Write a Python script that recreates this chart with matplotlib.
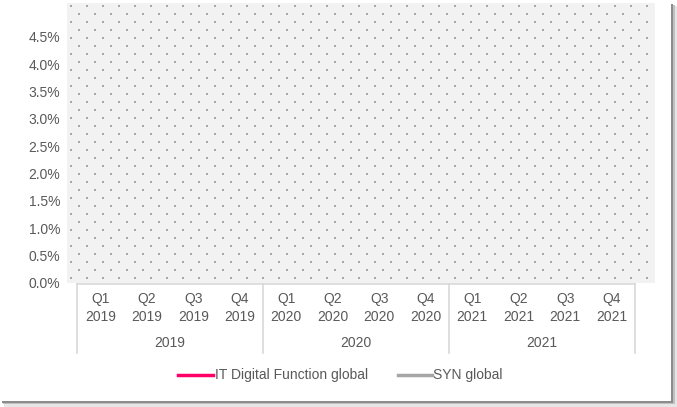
import matplotlib
matplotlib.use("Agg")
import matplotlib.pyplot as plt
import numpy as np
from matplotlib.patches import Rectangle
from matplotlib.ticker import FuncFormatter

plt.rcParams['font.family'] = ['Liberation Sans', 'DejaVu Sans']

# data
quarters = ["Q1", "Q2", "Q3", "Q4"]
years = ["2019", "2020", "2021"]
series_names = ["IT Digital Function global", "SYN global"]
series_colors = ["#ff0066", "#a6a6a6"]
# no values are shown in the chart (empty series)
it_digital = [np.nan] * 12
syn_global = [np.nan] * 12
y_ticks = [0.0, 0.005, 0.010, 0.015, 0.020, 0.025, 0.030, 0.035, 0.040, 0.045]

W, H = 677, 407
FS = 10
TXT = "#595959"
fig = plt.figure(figsize=(W / 100, H / 100), dpi=100)
fig.patch.set_facecolor("white")


def px(x0, y0, x1, y1):
    # pixel box -> figure fraction [l, b, w, h]
    return [x0 / W, 1 - y1 / H, (x1 - x0) / W, (y1 - y0) / H]


# card with shadow
sh = [(4, 6, 677, 407, "#e6e6e6"), (3, 5, 675, 404, "#bfbfbf"), (2, 4, 673, 403, "#8c8c8c")]
for x0, y0, x1, y1, c in sh:
    fig.patches.append(Rectangle((x0 / W, 1 - y1 / H), (x1 - x0) / W, (y1 - y0) / H,
                                 transform=fig.transFigure, facecolor=c, edgecolor="none", zorder=-10))
fig.patches.append(Rectangle((0, 1 - 401 / H), 671 / W, 401 / H,
                             transform=fig.transFigure, facecolor="white", edgecolor="none", zorder=-9))

# plot area
px_l, px_r, px_t, px_b = 67, 655, 3, 283
cat_l, cat_r = 77, 635
cw = (cat_r - cat_l) / 12.0
ax = fig.add_axes(px(px_l, px_t, px_r, px_b))
ax.set_facecolor("#f2f2f2")
for s in ax.spines.values():
    s.set_visible(False)
ax.set_xlim(-0.5 - (cat_l - px_l) / cw, 11.5 + (px_r - cat_r) / cw)
ax.set_ylim(0, 0.0512)
ax.set_yticks(y_ticks)
ax.yaxis.set_major_formatter(FuncFormatter(lambda v, p: f"{v * 100:.1f}%"))
ax.tick_params(axis="y", length=0, labelsize=FS, labelcolor=TXT, pad=5)
ax.set_xticks([])

# dotted pattern
dots_x, dots_y = [], []
row = 0
y = px_t + 3
while y < px_b - 3:
    off = 0 if row % 2 == 0 else 8
    x = px_l + 4 + off
    while x < px_r - 2:
        dots_x.append((x - px_l) / (px_r - px_l))
        dots_y.append(1 - (y - px_t) / (px_b - px_t))
        x += 16
    y += 8
    row += 1
ax.scatter(dots_x, dots_y, s=1.5, marker="s", color="#a6a6a6", linewidths=0,
           transform=ax.transAxes, zorder=1)

xs = np.arange(12)
ax.plot(xs, it_digital, color=series_colors[0], lw=2.5)
ax.plot(xs, syn_global, color=series_colors[1], lw=2.5)

# category axis (multi-level)
cax = fig.add_axes(px(cat_l, 284, cat_r, 353))
cax.set_xlim(0, 12)
cax.set_ylim(0, 1)
cax.axis("off")
lc = "#d9d9d9"
cax.plot([0, 12], [1, 1], color=lc, lw=1.2, clip_on=False)
for b in [0, 4, 8, 12]:
    cax.plot([b, b], [0, 1], color=lc, lw=1.2, clip_on=False)
for yi, yr in enumerate(years):
    for qi, q in enumerate(quarters):
        cax.text(yi * 4 + qi + 0.5, 1 - 24 / 69, f"{q}\n{yr}", ha="center", va="center",
                 fontsize=FS, color=TXT, linespacing=1.45)
    cax.text(yi * 4 + 2, 1 - 59 / 69, yr, ha="center", va="center", fontsize=FS, color=TXT)

# legend
lg_y = 1 - 375 / H
fig.add_artist(plt.Line2D([178 / W, 213 / W], [lg_y, lg_y], color=series_colors[0], lw=2.5))
fig.text(215 / W, lg_y, series_names[0], ha="left", va="center", fontsize=FS, color=TXT)
fig.add_artist(plt.Line2D([398 / W, 432 / W], [lg_y, lg_y], color=series_colors[1], lw=2.5))
fig.text(433 / W, lg_y, series_names[1], ha="left", va="center", fontsize=FS, color=TXT)

fig.savefig("out.png", dpi=100)
